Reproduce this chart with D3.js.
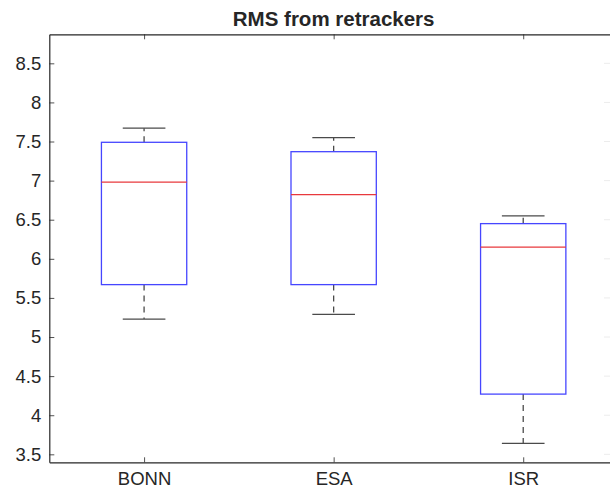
<!DOCTYPE html>
<html>
<head>
<meta charset="utf-8">
<script src="https://cdn.jsdelivr.net/npm/d3@7"></script>
<style>
  html, body { margin: 0; padding: 0; background: #fff; overflow: hidden; }
  svg { display: block; }
  text { font-family: "Liberation Sans", Arial, Helvetica, sans-serif; fill: #262626; }
</style>
</head>
<body>
<svg id="chart" width="610" height="490"></svg>
<script>
// Retracker names and their five-number summaries (RMS)
const categories = ["BONN", "ESA", "ISR"];
const whiskerHigh = [7.67, 7.55, 6.55];
const q3 = [7.49, 7.37, 6.45];
const median = [6.98, 6.82, 6.15];
const q1 = [5.67, 5.67, 4.27];
const whiskerLow = [5.23, 5.29, 3.64];
const yTicks = [3.5, 4, 4.5, 5, 5.5, 6, 6.5, 7, 7.5, 8, 8.5];
const yDomain = [3.398, 8.871];

const svg = d3.select("#chart");
const plotLeft = 49.3, plotRight = 618, plotTop = 34.3, plotBottom = 462.3;

const x = d3.scalePoint().domain(categories).range([plotLeft, plotRight]).padding(0.5);
const y = d3.scaleLinear().domain(yDomain).range([plotBottom, plotTop]);

const boxes = categories.map((c, i) => ({
  name: c, hi: whiskerHigh[i], q3: q3[i], med: median[i], q1: q1[i], lo: whiskerLow[i]
}));

const boxW = x.step() * 0.45;
const capW = boxW / 2;
const whiskerColor = "#4a4a4a";

const g = svg.append("g");

// whiskers (dashed)
g.selectAll(".whisker-up").data(boxes).join("line")
  .attr("x1", d => x(d.name)).attr("x2", d => x(d.name))
  .attr("y1", d => y(d.q3)).attr("y2", d => y(d.hi))
  .attr("stroke", whiskerColor).attr("stroke-width", 1.3).attr("stroke-dasharray", "6,5");
g.selectAll(".whisker-down").data(boxes).join("line")
  .attr("x1", d => x(d.name)).attr("x2", d => x(d.name))
  .attr("y1", d => y(d.q1)).attr("y2", d => y(d.lo))
  .attr("stroke", whiskerColor).attr("stroke-width", 1.3).attr("stroke-dasharray", "6,5");

// caps
["hi", "lo"].forEach(k => {
  g.selectAll(".cap-" + k).data(boxes).join("line")
    .attr("x1", d => x(d.name) - capW / 2).attr("x2", d => x(d.name) + capW / 2)
    .attr("y1", d => y(d[k])).attr("y2", d => y(d[k]))
    .attr("stroke", whiskerColor).attr("stroke-width", 1.3);
});

// boxes
g.selectAll(".box").data(boxes).join("rect")
  .attr("x", d => x(d.name) - boxW / 2).attr("width", boxW)
  .attr("y", d => y(d.q3)).attr("height", d => y(d.q1) - y(d.q3))
  .attr("fill", "none").attr("stroke", "#4646ff").attr("stroke-width", 1.3);

// medians
g.selectAll(".median").data(boxes).join("line")
  .attr("x1", d => x(d.name) - boxW / 2).attr("x2", d => x(d.name) + boxW / 2)
  .attr("y1", d => y(d.med)).attr("y2", d => y(d.med))
  .attr("stroke", "#e8383d").attr("stroke-width", 1.2);

// axes with inward ticks
const axisColor = "#262626";
const yAxis = d3.axisLeft(y).tickValues(yTicks).tickSize(-5).tickSizeOuter(0).tickPadding(8)
  .tickFormat(d => d3.format("")(d));
const xAxis = d3.axisBottom(x).tickSize(-5).tickSizeOuter(0).tickPadding(10);
const xAxisT = d3.axisTop(x).tickSize(-5).tickSizeOuter(0).tickFormat("");

function style(sel, fs) {
  sel.select(".domain").attr("stroke", axisColor).attr("stroke-width", 1.2).attr("fill", "none");
  sel.selectAll(".tick line").attr("stroke", axisColor).attr("stroke-width", 0.8);
  sel.selectAll(".tick text").attr("font-size", fs).attr("fill", axisColor)
    .style("font-family", "'Liberation Sans', Arial, sans-serif");
}

svg.append("g").attr("transform", `translate(${plotLeft},0)`).call(yAxis)
  .call(s => style(s, 18.5));
svg.append("g").attr("transform", `translate(0,${plotBottom})`).call(xAxis)
  .call(s => style(s, 18.5));
svg.append("g").attr("transform", `translate(0,${plotTop})`).call(xAxisT)
  .call(s => style(s, 18.5));

// faint inward ticks of the right-hand frame edge, which sits just past the visible area
svg.append("g").selectAll("line").data(yTicks).join("line")
  .attr("x1", 604).attr("x2", 610)
  .attr("y1", d => y(d)).attr("y2", d => y(d))
  .attr("stroke", "#ececec").attr("stroke-width", 1);

// title
svg.append("text")
  .attr("x", (plotLeft + plotRight) / 2).attr("y", 26)
  .attr("text-anchor", "middle")
  .attr("font-size", 20.5).attr("font-weight", "bold")
  .text("RMS from retrackers");
</script>
</body>
</html>
